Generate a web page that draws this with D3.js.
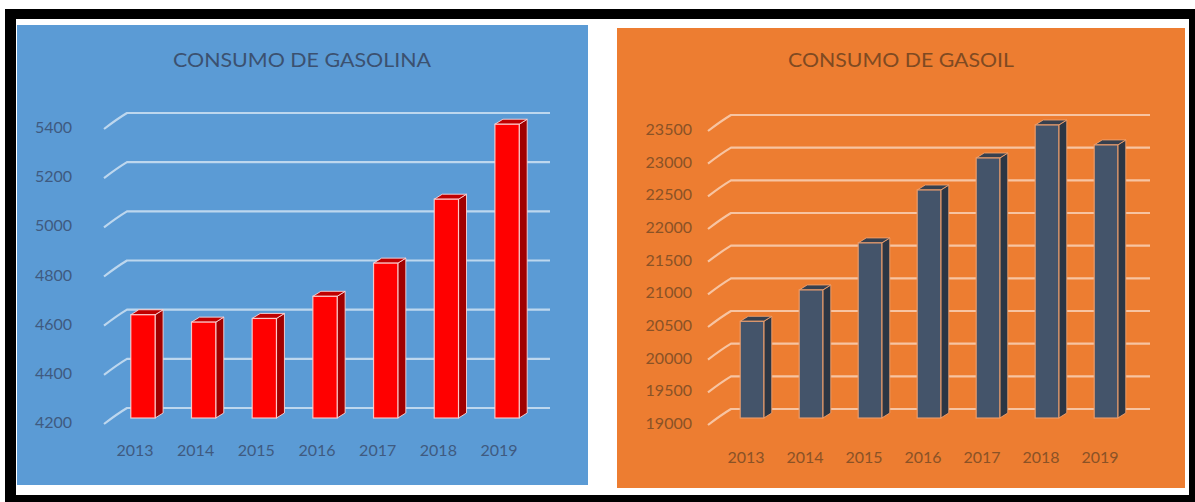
<!DOCTYPE html>
<html>
<head>
<meta charset="utf-8">
<script src="https://cdn.jsdelivr.net/npm/d3@7"></script>
<style>
  html, body { margin: 0; padding: 0; background: #fff; }
  svg { display: block; }
  text { font-family: Lato, "Open Sans", "Liberation Sans", sans-serif; }
</style>
</head>
<body>
<svg id="chart" width="1195" height="502"></svg>
<script>
// ---- data ----
const years = ["2013", "2014", "2015", "2016", "2017", "2018", "2019"];
const gasolina = [4620, 4590, 4605, 4695, 4830, 5090, 5395];
const gasoil = [20480, 20960, 21680, 22490, 22980, 23485, 23180];
const gasolinaTicks = [4200, 4400, 4600, 4800, 5000, 5200, 5400];
const gasoilTicks = [19000, 19500, 20000, 20500, 21000, 21500, 22000, 22500, 23000, 23500];
const titleGasolina = "CONSUMO DE GASOLINA";
const titleGasoil = "CONSUMO DE GASOIL";

const svg = d3.select("#chart");

// frame
svg.append("rect").attr("x", 5).attr("y", 9).attr("width", 1195).attr("height", 500).attr("fill", "#000");
svg.append("rect").attr("x", 16).attr("y", 19).attr("width", 1173).attr("height", 476).attr("fill", "#fff");

function drawPanel(cfg) {
  const g = svg.append("g");
  g.append("rect").attr("x", cfg.px).attr("y", cfg.py).attr("width", cfg.pw).attr("height", cfg.ph).attr("fill", cfg.bg);

  g.append("text").attr("x", cfg.titleX).attr("y", cfg.titleY)
    .attr("text-anchor", "middle").attr("dominant-baseline", "middle")
    .attr("font-size", 19).attr("fill", cfg.titleColor)
    .attr("textLength", cfg.titleLen).attr("lengthAdjust", "spacingAndGlyphs")
    .text(cfg.title);

  const yBack = d3.scaleLinear().domain(cfg.domain).range(cfg.backRange);
  const yBar = d3.scaleLinear().domain(cfg.domain).range([cfg.backRange[0] + cfg.barShift, cfg.backRange[1] + cfg.barShift]);
  const x = d3.scaleBand().domain(years).range(cfg.xRange).paddingInner(cfg.pad).paddingOuter(cfg.pad / 2);

  // gridlines (back wall + side wall diagonal)
  cfg.ticks.forEach(t => {
    const yb = yBack(t);
    g.append("path")
      .attr("d", `M${cfg.diagX0},${yb + 16} Q${cfg.diagX0 + 13},${yb + 6} ${cfg.diagX1},${yb} L${cfg.gridEnd},${yb}`)
      .attr("fill", "none").attr("stroke", cfg.gridColor).attr("stroke-width", 2.2);
    g.append("text").attr("x", cfg.labelX).attr("y", yb + 16)
      .attr("text-anchor", "end").attr("dominant-baseline", "middle")
      .attr("font-size", 16).attr("fill", cfg.textColor).text(t);
  });

  // 3D bars
  const dx = 8, dy = 5;
  const bars = g.selectAll("g.bar").data(cfg.values).join("g").attr("class", "bar");
  bars.each(function(v, i) {
    const b = d3.select(this);
    const x0 = x(years[i]), w = x.bandwidth();
    const top = yBar(v), bot = yBar(cfg.domain[0]);
    b.append("path")
      .attr("d", `M${x0 + w},${top} L${x0 + w + dx},${top - dy} L${x0 + w + dx},${bot - dy} L${x0 + w},${bot} Z`)
      .attr("fill", cfg.side).attr("stroke", cfg.edge).attr("stroke-width", 1);
    b.append("path")
      .attr("d", `M${x0},${top} L${x0 + dx},${top - dy} L${x0 + w + dx},${top - dy} L${x0 + w},${top} Z`)
      .attr("fill", cfg.topC).attr("stroke", cfg.edge).attr("stroke-width", 1);
    b.append("rect").attr("x", x0).attr("y", top).attr("width", w).attr("height", bot - top)
      .attr("fill", cfg.front).attr("stroke", cfg.edge).attr("stroke-width", 1.2);
  });

  // category labels
  years.forEach(yr => {
    g.append("text").attr("x", x(yr) + x.bandwidth() / 2 + cfg.yearShift).attr("y", cfg.yearY)
      .attr("text-anchor", "middle").attr("dominant-baseline", "middle")
      .attr("font-size", 16).attr("fill", cfg.textColor).text(yr);
  });
}

drawPanel({
  px: 17, py: 25, pw: 571, ph: 460, bg: "#5b9bd5",
  title: titleGasolina, titleX: 302, titleY: 62, titleLen: 258,
  textColor: "#3f5a80", titleColor: "#3b5170",
  domain: [4200, 5400], ticks: gasolinaTicks, values: gasolina,
  backRange: [408, 113], barShift: 10,
  xRange: [112.6, 537.4], pad: 0.6,
  diagX0: 104, diagX1: 127, gridEnd: 550, labelX: 72,
  gridColor: "rgba(255,255,255,0.6)",
  front: "#ff0000", side: "#a00000", topC: "#c00000", edge: "rgba(255,220,220,0.85)",
  yearShift: -8, yearY: 452
});

drawPanel({
  px: 617, py: 28, pw: 568, ph: 460, bg: "#ed7d31",
  title: titleGasoil, titleX: 901, titleY: 62, titleLen: 226,
  textColor: "#8a5226", titleColor: "#7f4a22",
  domain: [19000, 23500], ticks: gasoilTicks, values: gasoil,
  backRange: [409, 115], barShift: 9,
  xRange: [722.5, 1135.5], pad: 0.6,
  diagX0: 708, diagX1: 731, gridEnd: 1150, labelX: 692,
  gridColor: "rgba(255,255,255,0.55)",
  front: "#44546a", side: "#2c3644", topC: "#36404f", edge: "rgba(240,160,110,0.9)",
  yearShift: -6, yearY: 459
});
</script>
</body>
</html>
